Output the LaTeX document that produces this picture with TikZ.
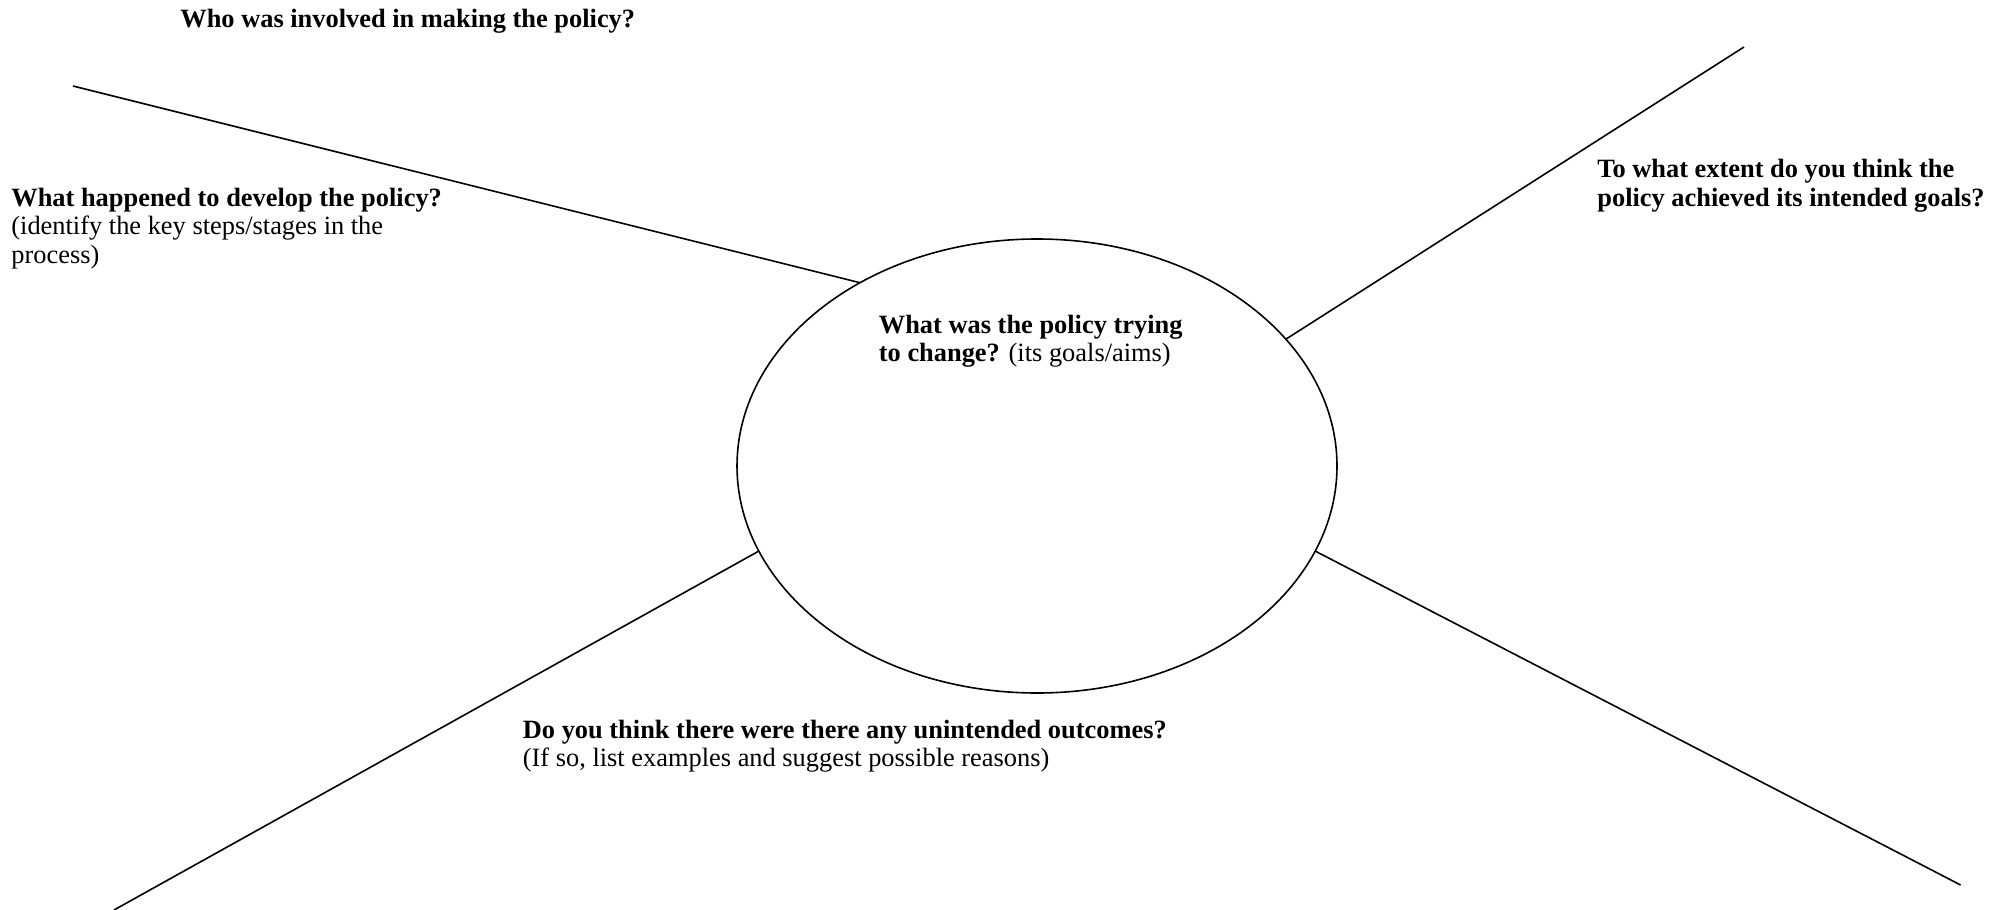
\documentclass[tikz,border=0pt]{standalone}
\usepackage{fontspec}
\setmainfont{Liberation Serif}
\usepackage{tikz}
\usetikzlibrary{shapes}
\tikzstyle{question}=[anchor=base west,inner sep=0,align=left,font=\fontsize{13.2}{14.2}\selectfont]
\tikzstyle{bubble}=[ellipse,draw=black,line width=0.8pt,inner sep=0,outer sep=0,minimum width=300pt,minimum height=227pt]
\tikzstyle{spoke}=[line width=0.8pt]

\begin{document}
\begin{tikzpicture}[x=0.5pt,y=-0.5pt]
\useasboundingbox (0,0) rectangle (2008,910);
\node[bubble] (aims) at (1037,466) {};
% multi-line questions sit on the baseline of their last line
\node[question] (who) at (180,27.5) {\textbf{Who was involved in making the policy?}};
\node[question] (develop) at (11,263.3) {\textbf{What happened to develop the policy?}\\
(identify the key steps/stages in the\\ process)};
\node[question] (aimstext) at (878.5,361.9) {\textbf{What was the policy trying}\\
\textbf{to change?} (its goals/aims)};
\node[question] (goals) at (1597,206.1) {\textbf{To what extent do you think the}\\
\textbf{policy achieved its intended goals?}};
\node[question] (outcomes) at (522.5,766.7) {\textbf{Do you think there were there any unintended outcomes?}\\
(If so, list examples and suggest possible reasons)};
% free ends of the spokes
\coordinate (tl) at (73,86);
\coordinate (tr) at (1744,47);
\coordinate (bl) at (114,910);
\coordinate (br) at (1960.6,885);
\draw[spoke] (aims.134.4) -- (tl);
\draw[spoke] (aims.27.5) -- (tr);
\draw[spoke] (aims.197.3) -- (bl);
\draw[spoke] (aims.-17.3) -- (br);
\end{tikzpicture}
\end{document}
